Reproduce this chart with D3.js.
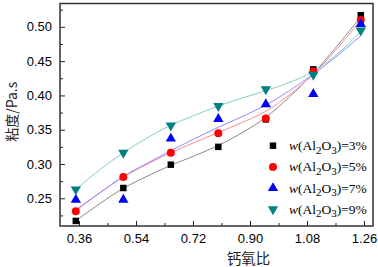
<!DOCTYPE html>
<html>
<head>
<meta charset="utf-8">
<script src="https://cdn.jsdelivr.net/npm/d3@7"></script>
<style>
  body { margin: 0; background: #fff; }
  svg { display: block; }
</style>
</head>
<body>
<div id="chart"></div>
<script>
// --- Dữ liệu ---
const caoRatio = [0.35, 0.50, 0.65, 0.80, 0.95, 1.10, 1.25];
const seriesNames = ["3%", "5%", "7%", "9%"];

// giá trị đo (điểm)
const visc3 = [0.217, 0.265, 0.299, 0.325, 0.365, 0.438, 0.517];
const visc5 = [0.231, 0.281, 0.3165, 0.345, 0.3665, 0.435, 0.510];
const visc7 = [0.248, 0.248, 0.337, 0.3655, 0.387, 0.402, 0.504];
const visc9 = [0.263, 0.3165, 0.356, 0.3845, 0.409, 0.430, 0.4945];

// đường fit (bước 0.075)
const fitX = [0.35, 0.425, 0.50, 0.575, 0.65, 0.725, 0.80, 0.875, 0.95, 1.025, 1.10, 1.175, 1.25];
const fit3 = [0.2174, 0.2420, 0.2646, 0.2821, 0.2980, 0.3120, 0.3270, 0.3455, 0.3680, 0.3980, 0.4320, 0.4720, 0.5146];
const fit5 = [0.2320, 0.2575, 0.2810, 0.2995, 0.3165, 0.3315, 0.3460, 0.3605, 0.3770, 0.4010, 0.4310, 0.4680, 0.5100];
const fit7 = [0.2330, 0.2580, 0.2820, 0.3010, 0.3195, 0.3370, 0.3535, 0.3690, 0.3860, 0.4070, 0.4310, 0.4575, 0.4870];
const fit9 = [0.2630, 0.2915, 0.3165, 0.3380, 0.3565, 0.3710, 0.3845, 0.3960, 0.4070, 0.4190, 0.4350, 0.4600, 0.4930];

const xTicks = [0.36, 0.54, 0.72, 0.90, 1.08, 1.26];
const yTicks = [0.25, 0.30, 0.35, 0.40, 0.45, 0.50];

const points = [visc3, visc5, visc7, visc9];
const fits = [fit3, fit5, fit7, fit9];
const markerColors = ["#000000", "#ff0000", "#0000ff", "#008080"];
const fitColors = ["#8a8a8a", "#ff8c8c", "#8c8cff", "#88cccc"];
const symbols = [d3.symbolSquare, d3.symbolCircle, d3.symbolTriangle, d3.symbolTriangle];
const symSizes = [42, 50, 46, 46];

// --- Kích thước ---
const W = 378, H = 267;
const margin = { top: 3.5, right: 5, bottom: 41, left: 60 };
const width = W - margin.left - margin.right,
      height = H - margin.top - margin.bottom;

const svg = d3.select("#chart").append("svg")
  .attr("width", W).attr("height", H);

const g = svg.append("g")
  .attr("transform", `translate(${margin.left},${margin.top})`);

// --- Scale ---
const x = d3.scaleLinear().domain([0.30, 1.2885]).range([0, width]);
const y = d3.scaleLinear().domain([0.2096, 0.534]).range([height, 0]);

const sansFont = "'Liberation Sans', Arial, sans-serif";

// --- Trục X ---
const xMinor = d3.range(0.45, 1.26, 0.18);
g.append("g")
  .attr("transform", `translate(0,${height})`)
  .call(d3.axisBottom(x).tickValues(xMinor).tickSize(-3).tickFormat(""))
  .call(a => a.select(".domain").remove());
const xAxis = g.append("g")
  .attr("transform", `translate(0,${height})`)
  .call(d3.axisBottom(x).tickValues(xTicks).tickSize(-5).tickPadding(7.5)
          .tickFormat(d3.format(".2f")));
xAxis.select(".domain").remove();
xAxis.selectAll("text").style("font-family", sansFont).style("font-size", "13px").attr("fill", "#000");

// --- Trục Y ---
const yMinor = d3.range(0.225, 0.53, 0.05);
g.append("g")
  .call(d3.axisLeft(y).tickValues(yMinor).tickSize(-3).tickFormat(""))
  .call(a => a.select(".domain").remove());
const yAxis = g.append("g")
  .call(d3.axisLeft(y).tickValues(yTicks).tickSize(-5).tickPadding(8)
          .tickFormat(d3.format(".2f")));
yAxis.select(".domain").remove();
yAxis.selectAll("text").style("font-family", sansFont).style("font-size", "13px").attr("fill", "#000");

g.selectAll(".tick line").attr("stroke", "#222").attr("stroke-width", 1);

// --- Đường fit ---
const line = d3.line()
  .x((d, i) => x(fitX[i]))
  .y(d => y(d))
  .curve(d3.curveMonotoneX);

g.selectAll(".fit")
  .data(fits)
  .enter()
  .append("path")
    .attr("class", "fit")
    .attr("fill", "none")
    .attr("stroke", (d, i) => fitColors[i])
    .attr("stroke-width", 1)
    .attr("d", d => line(d));

// --- Điểm ---
points.forEach((s, k) => {
  g.selectAll(".dot" + k)
    .data(s)
    .enter()
    .append("path")
      .attr("transform", (d, i) => `translate(${x(caoRatio[i])},${y(d)})` + (k === 3 ? " rotate(180)" : ""))
      .attr("d", d3.symbol().type(symbols[k]).size(symSizes[k]))
      .attr("fill", markerColors[k]);
});

// --- Khung ---
g.append("rect")
  .attr("width", width).attr("height", height)
  .attr("fill", "none")
  .attr("stroke", "#333").attr("stroke-width", 1.5);

// --- Legend ---
const legend = g.append("g").attr("transform", `translate(${x(0.9) + 23},${y(0.3267)})`);
seriesNames.forEach((nm, i) => {
  const row = legend.append("g").attr("transform", `translate(0,${i * 21.2})`);
  row.append("path")
    .attr("transform", i === 3 ? "rotate(180)" : null)
    .attr("d", d3.symbol().type(symbols[i]).size(symSizes[i]))
    .attr("fill", markerColors[i]);
  const t = row.append("text")
    .attr("x", 16).attr("y", 4.5)
    .style("font-family", "'Liberation Serif', 'Times New Roman', serif")
    .style("font-size", "13.5px")
    .attr("fill", "#000");
  t.append("tspan").style("font-style", "italic").text("w");
  t.append("tspan").text("(Al");
  t.append("tspan").attr("dy", 3.5).style("font-size", "11px").text("2");
  t.append("tspan").attr("dy", -3.5).text("O");
  t.append("tspan").attr("dy", 3.5).style("font-size", "11px").text("3");
  t.append("tspan").attr("dy", -3.5).text(`)=${nm}`);
});

// --- Tiêu đề trục ---
svg.append("text")
  .attr("x", margin.left + x(0.895))
  .attr("y", 264)
  .attr("text-anchor", "middle")
  .style("font-family", "'Noto Sans CJK SC', sans-serif")
  .style("font-size", "14.5px")
  .attr("fill", "#222")
  .text("钙氧比");

svg.append("text")
  .attr("transform", `translate(17,${margin.top + height / 2 - 3}) rotate(-90)`)
  .attr("text-anchor", "middle")
  .style("font-family", "'Noto Sans CJK SC', sans-serif")
  .style("font-size", "14px")
  .attr("fill", "#222")
  .text("粘度/Pa.s");
</script>
</body>
</html>
